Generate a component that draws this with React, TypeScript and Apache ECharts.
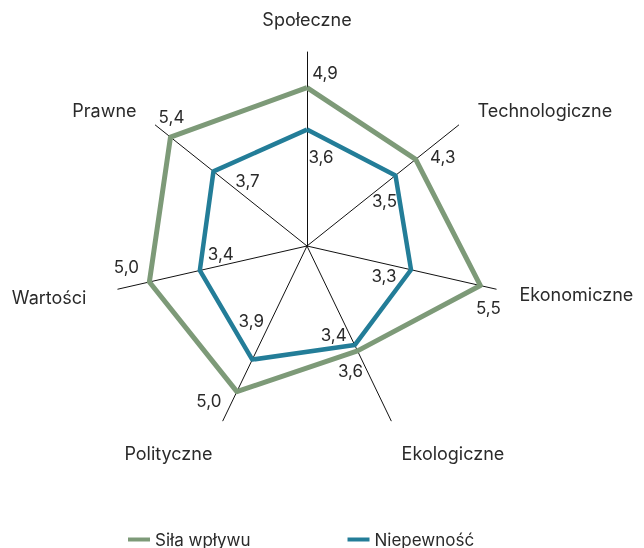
import React, { useEffect, useRef } from "react";
import * as echarts from "echarts";

const categories = ["Społeczne", "Technologiczne", "Ekonomiczne", "Ekologiczne", "Polityczne", "Wartości", "Prawne"];
const silaWplywu = [4.9, 4.3, 5.5, 3.6, 5.0, 5.0, 5.4];
const niepewnosc = [3.6, 3.5, 3.3, 3.4, 3.9, 3.4, 3.7];
const seriesNames = ["Siła wpływu", "Niepewność"];
const axisMax = 6;

// label placement offsets (style only), relative to each vertex, in category order
const greenLabelOffsets = [[18, -15], [27, -2], [8, 22], [-7, 20], [-28, 9], [-23, -15], [1, -20]];
const blueLabelOffsets = [[14, 27], [-11, 26], [-27, 6], [-21, -10], [-1, -39], [21, -16], [34, 10]];

const GREEN = "#7d9a78";
const BLUE = "#237d98";
const TEXT = "#2a2a2a";
const FONT = "Inter, 'Open Sans', sans-serif";

// ECharts radar runs counter-clockwise; reorder so categories go clockwise from the top
const order = categories.map((_, k) => (k === 0 ? 0 : categories.length - k));
const reorder = <T,>(arr: T[]) => order.map((i) => arr[i]);

const fmt = (v: number) => v.toFixed(1).replace(".", ",");

function labelItems(vals: number[], offsets: number[][]) {
  const rv = reorder(vals);
  const ro = reorder(offsets);
  return rv.map((v, i) => ({
    value: rv.map((x, j) => (j === i ? x : 0)),
    label: {
      show: true,
      position: "inside",
      offset: ro[i],
      color: TEXT,
      fontSize: 17,
      fontFamily: FONT,
      formatter: (p: any) => {
        const d = p.dimensionIndex;
        if (d != null) return d === i ? fmt(rv[i]) : "";
        const val = typeof p.value === "number" ? p.value : NaN;
        return val > 0 ? fmt(val) : "";
      },
    },
  }));
}

export default function App() {
  const ref = useRef<HTMLDivElement>(null);
  useEffect(() => {
    if (!ref.current) return;
    const chart = echarts.init(ref.current, null, { renderer: "svg" });
    const bottomNames = ["Ekologiczne", "Polityczne"];
    chart.setOption({
      animation: false,
      legend: {
        data: seriesNames,
        left: 123,
        top: 526,
        icon: "rect",
        itemWidth: 22,
        itemHeight: 4,
        itemGap: 97,
        textStyle: { color: TEXT, fontSize: 17, fontFamily: FONT },
      },
      radar: {
        center: [307, 246],
        radius: 194,
        startAngle: 90,
        splitNumber: 1,
        nameGap: 24,
        indicator: reorder(categories).map((c) => ({ name: c, min: 0, max: axisMax })),
        axisName: {
          color: TEXT,
          fontSize: 18,
          fontFamily: FONT,
          formatter: (name: string) => {
            if (bottomNames.includes(name)) return `{b|${name}}`;
            if (name === "Wartości") return `{w|${name}}`;
            return `{n|${name}}`;
          },
          rich: {
            n: { color: TEXT, fontSize: 18, fontFamily: FONT },
            b: { color: TEXT, fontSize: 18, fontFamily: FONT, padding: [22, 0, 0, 0] },
            w: { color: TEXT, fontSize: 18, fontFamily: FONT, padding: [6, 8, 0, 0] },
          },
        },
        axisLine: { lineStyle: { color: "#111", width: 1 } },
        splitLine: { show: false },
        splitArea: { show: false },
        axisTick: { show: false },
        axisLabel: { show: false },
      },
      series: [
        {
          name: seriesNames[1],
          type: "radar",
          symbol: "none",
          z: 2,
          itemStyle: { color: BLUE },
          lineStyle: { color: BLUE, width: 4.5 },
          data: [{ value: reorder(niepewnosc), name: seriesNames[1] }],
        },
        {
          name: seriesNames[0],
          type: "radar",
          symbol: "none",
          z: 3,
          itemStyle: { color: GREEN },
          lineStyle: { color: GREEN, width: 5 },
          data: [{ value: reorder(silaWplywu), name: seriesNames[0] }],
        },
        {
          name: "_labels",
          type: "radar",
          symbol: "circle",
          symbolSize: 1,
          z: 4,
          silent: true,
          itemStyle: { color: "rgba(0,0,0,0)" },
          lineStyle: { color: "rgba(0,0,0,0)", width: 0 },
          data: [...labelItems(silaWplywu, greenLabelOffsets), ...labelItems(niepewnosc, blueLabelOffsets)],
        },
      ],
    });
    return () => chart.dispose();
  }, []);
  return <div ref={ref} style={{ position: "fixed", left: 0, top: 0, width: 644, height: 548 }} />;
}
